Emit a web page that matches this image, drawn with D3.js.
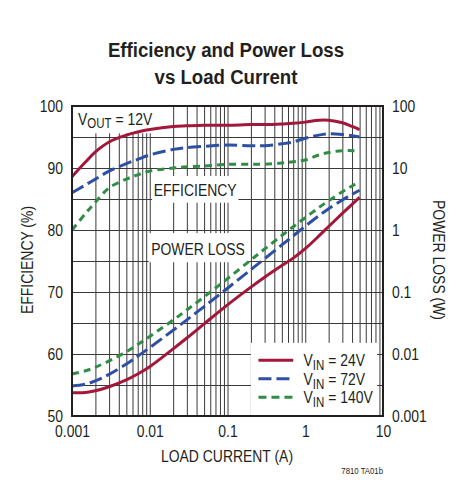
<!DOCTYPE html>
<html lang="en">
  <head>
    <meta charset="utf-8" />
    <title>Efficiency and Power Loss vs Load Current</title>
    <script src="https://d3js.org/d3.v7.min.js"></script>
    <style>
      body { margin: 0; background: #fff; }
      svg text { font-family: "Liberation Sans", Arial, sans-serif; fill: #231f20; }
      .grid line { stroke: #3a3a3a; stroke-width: 1; }
      .grid path { display: none; }
      .tick-labels path, .tick-labels line { display: none; }
      .tick-labels text { font-size: 17px; }
    </style>
  </head>
  <body>
    <svg id="chart" width="465" height="500"></svg>
    <script>
      // load current (A)
      const current = [0.001, 0.0015, 0.002, 0.003, 0.005, 0.007, 0.01, 0.02, 0.03, 0.05, 0.1,
                       0.2, 0.3, 0.5, 0.7, 1, 1.5, 2, 3, 4, 5];
      // efficiency (%)
      const eff24  = [88.6, 91.0, 92.6, 94.2, 95.3, 95.8, 96.2, 96.7, 96.8, 96.9, 96.9,
                      97.0, 97.0, 97.1, 97.2, 97.4, 97.7, 97.7, 97.3, 96.7, 96.2];
      const eff72  = [86.0, 87.3, 88.2, 89.5, 90.7, 91.4, 92.1, 93.0, 93.3, 93.5, 93.7,
                      93.6, 93.6, 93.9, 94.2, 94.8, 95.3, 95.5, 95.4, 95.2, 95.0];
      const eff140 = [80.0, 82.7, 84.5, 86.8, 88.2, 88.9, 89.5, 90.0, 90.2, 90.3, 90.6,
                      90.6, 90.6, 90.8, 91.0, 91.3, 92.1, 92.5, 92.8, 92.8, 92.8];
      // power loss (W)
      const loss24  = [0.00238, 0.00240, 0.00255, 0.00296, 0.00382, 0.00475, 0.00624, 0.0121, 0.0181, 0.0306, 0.0621,
                       0.120, 0.173, 0.267, 0.352, 0.501, 0.802, 1.14, 1.85, 2.59, 3.36];
      const loss72  = [0.00305, 0.00328, 0.00368, 0.00470, 0.00690, 0.00918, 0.0127, 0.0242, 0.0355, 0.0582, 0.115,
                       0.230, 0.344, 0.574, 0.804, 1.15, 1.70, 2.21, 3.05, 3.76, 4.38];
      const loss140 = [0.00475, 0.00537, 0.00611, 0.00773, 0.0109, 0.0142, 0.0192, 0.0353, 0.0513, 0.0834, 0.164,
                       0.329, 0.493, 0.815, 1.13, 1.58, 2.30, 2.96, 4.13, 5.14, 6.04];

      const seriesNames = ["24V", "72V", "140V"];
      const xTicks = [0.001, 0.01, 0.1, 1, 10];
      const effTicks = [50, 60, 70, 80, 90, 100];
      const lossTicks = [0.001, 0.01, 0.1, 1, 10, 100];
      const lossTickLabels = ["0.001", "0.01", "0.1", "1", "10", "100"];

      const svg = d3.select("svg#chart");
      const margin = {top: 106, right: 82, bottom: 84, left: 72};
      const plotW = 465 - margin.left - margin.right;
      const plotH = 500 - margin.top - margin.bottom;

      const x = d3.scaleLog().domain([0.001, 10]).range([0, plotW]);
      const yEff = d3.scaleLinear().domain([50, 100]).range([plotH, 0]);
      const yLoss = d3.scaleLog().domain([0.001, 100]).range([plotH, 0]);

      const colors = ["#a3173b", "#2d4fa4", "#2f8d45"];
      const dashes = [null, "13,5", "7,5"];

      // title
      svg.append("text").attr("class", "title").attr("x", 226).attr("y", 57).attr("text-anchor", "middle")
        .style("font-size", "20.5px").style("font-weight", "bold").text("Efficiency and Power Loss");
      svg.append("text").attr("class", "title").attr("x", 226).attr("y", 84).attr("text-anchor", "middle")
        .style("font-size", "20.5px").style("font-weight", "bold").text("vs Load Current");

      const plot = svg.append("g").attr("transform", "translate(" + margin.left + "," + margin.top + ")");

      // grid lines
      let minor = [];
      for (let d = -3; d < 1; d++) {
        for (let m = 1; m <= 9; m++) {
          if (d === -3 && m === 1) continue;
          minor.push(m * Math.pow(10, d));
        }
      }
      plot.append("g").attr("class", "grid")
        .attr("transform", "translate(0," + plotH + ")")
        .call(d3.axisBottom(x).tickValues(minor).tickSize(-plotH).tickFormat(""));
      plot.append("g").attr("class", "grid")
        .call(d3.axisLeft(yEff).tickValues(d3.range(55, 100, 5)).tickSize(-plotW).tickFormat(""));

      // white boxes behind the labels
      const boxes = [
        {x0: 0.001, x1: 0.0155, y0: 100, y1: 95.6},
        {x0: 0.0107, x1: 0.138, y0: 88.7, y1: 84.4},
        {x0: 0.0097, x1: 0.18, y0: 79.5, y1: 74.8}
      ];
      plot.selectAll("rect.box").data(boxes).join("rect").attr("class", "box")
        .attr("x", d => x(d.x0)).attr("width", d => x(d.x1) - x(d.x0))
        .attr("y", d => yEff(d.y0)).attr("height", d => yEff(d.y1) - yEff(d.y0))
        .attr("fill", "#fff");
      // legend box
      plot.append("rect")
        .attr("x", x(0.2)).attr("width", x(8.4) - x(0.2))
        .attr("y", yEff(61.8)).attr("height", yEff(50) - yEff(61.8))
        .attr("fill", "#fff");

      // curves
      const effSeries = [eff24, eff72, eff140];
      const lossSeries = [loss24, loss72, loss140];
      const effLine = d3.line().x((d, i) => x(current[i])).y(d => yEff(d)).curve(d3.curveCatmullRom.alpha(0.5));
      const lossLine = d3.line().x((d, i) => x(current[i])).y(d => yLoss(d)).curve(d3.curveCatmullRom.alpha(0.5));
      [2, 1, 0].forEach(k => {
        plot.append("path").datum(lossSeries[k]).attr("d", lossLine)
          .attr("fill", "none").attr("stroke", colors[k]).attr("stroke-width", 3)
          .attr("stroke-dasharray", dashes[k]);
        plot.append("path").datum(effSeries[k]).attr("d", effLine)
          .attr("fill", "none").attr("stroke", colors[k]).attr("stroke-width", 3)
          .attr("stroke-dasharray", dashes[k]);
      });

      // border
      plot.append("rect").attr("width", plotW).attr("height", plotH)
        .attr("fill", "none").attr("stroke", "#231f20").attr("stroke-width", 2);

      // in-plot labels
      const vout = plot.append("text").attr("x", 6).attr("y", 18.5).style("font-size", "17px");
      vout.append("tspan").text("V");
      vout.append("tspan").attr("dy", 3).style("font-size", "14px").text("OUT");
      vout.append("tspan").attr("dy", -3).text(" = 12V");
      plot.append("text").attr("x", (x(0.0107) + x(0.138)) / 2).attr("y", yEff(85.5))
        .attr("text-anchor", "middle").style("font-size", "17px").text("EFFICIENCY");
      plot.append("text").attr("x", (x(0.0097) + x(0.18)) / 2).attr("y", yEff(76.0))
        .attr("text-anchor", "middle").style("font-size", "17px").text("POWER LOSS");

      // legend
      const legend = plot.append("g");
      seriesNames.forEach((name, k) => {
        const ly = yEff(59) + k * 18.5;
        legend.append("line").attr("x1", x(0.25)).attr("x2", x(0.7)).attr("y1", ly).attr("y2", ly)
          .attr("stroke", colors[k]).attr("stroke-width", 3).attr("stroke-dasharray", k === 2 ? "8,5" : dashes[k]);
        const t = legend.append("text").attr("x", x(0.95)).attr("y", ly + 6).style("font-size", "17px");
        t.append("tspan").text("V");
        t.append("tspan").attr("dy", 4).style("font-size", "14px").text("IN");
        t.append("tspan").attr("dy", -4).text(" = " + name);
      });

      // tick labels
      plot.append("g").attr("class", "tick-labels")
        .call(d3.axisLeft(yEff).tickValues(effTicks).tickSize(0).tickPadding(9));
      plot.append("g").attr("class", "tick-labels")
        .attr("transform", "translate(" + plotW + ",0)")
        .call(d3.axisRight(yLoss).tickValues(lossTicks).tickSize(0).tickPadding(9)
          .tickFormat((d, i) => lossTickLabels[i]));
      plot.append("g").attr("class", "tick-labels")
        .attr("transform", "translate(0," + plotH + ")")
        .call(d3.axisBottom(x).tickValues(xTicks).tickSize(0).tickPadding(9)
          .tickFormat(d => d3.format("~g")(d)));

      // axis titles
      svg.append("text").attr("x", 227).attr("y", 461.5).attr("text-anchor", "middle")
        .style("font-size", "17px").text("LOAD CURRENT (A)");
      svg.append("text").attr("transform", "translate(33,260) rotate(-90)").attr("text-anchor", "middle")
        .style("font-size", "17px").text("EFFICIENCY (%)");
      svg.append("text").attr("transform", "translate(433,260) rotate(90)").attr("text-anchor", "middle")
        .style("font-size", "17px").text("POWER LOSS (W)");
      svg.append("text").attr("x", 383).attr("y", 474).attr("text-anchor", "end")
        .style("font-size", "9.5px").text("7810 TA01b");

      // condense every text horizontally (no narrow font installed)
      svg.selectAll("text").each(function() {
        const t = d3.select(this);
        const tx = +t.attr("x") || 0, ty = +t.attr("y") || 0;
        const sx = t.classed("title") ? 0.91 : 0.82;
        const tr = t.attr("transform") || "";
        t.attr("x", null).attr("y", null)
          .attr("transform", tr + " translate(" + tx + "," + ty + ") scale(" + sx + ",1)");
      });
    </script>
  </body>
</html>
